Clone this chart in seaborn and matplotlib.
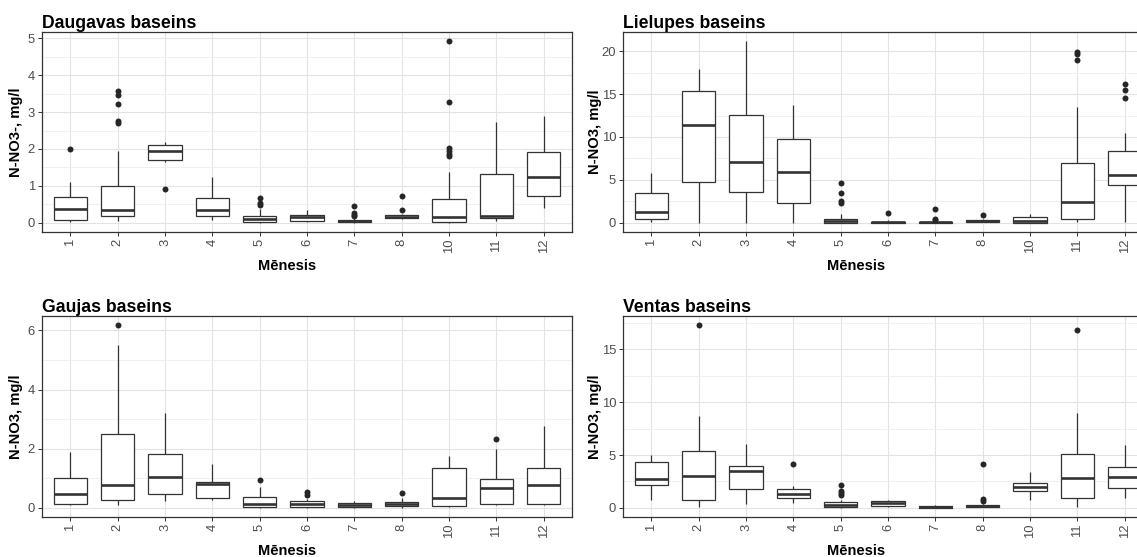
import numpy as np
import pandas as pd
import matplotlib
matplotlib.use("Agg")
import matplotlib.pyplot as plt
import seaborn as sns
from matplotlib.ticker import MultipleLocator

months = ["1", "2", "3", "4", "5", "6", "7", "8", "10", "11", "12"]

# ---- Daugavas baseins ----
daug_lo  = [0.03, 0.05, 1.65, 0.08, 0.00, 0.03, 0.00, 0.10, 0.00, 0.06, 0.41]
daug_q1  = [0.09, 0.20, 1.71, 0.20, 0.03, 0.06, 0.02, 0.13, 0.03, 0.12, 0.72]
daug_med = [0.385, 0.34, 1.95, 0.34, 0.10, 0.15, 0.045, 0.17, 0.17, 0.18, 1.25]
daug_q3  = [0.71, 0.99, 2.10, 0.67, 0.19, 0.22, 0.07, 0.21, 0.65, 1.32, 1.91]
daug_hi  = [1.12, 1.95, 2.19, 1.23, 0.37, 0.34, 0.12, 0.23, 1.38, 2.73, 2.88]
daug_out_m = ["1", "2", "2", "2", "2", "2", "3", "5", "5", "5", "7", "7", "7", "7",
              "8", "8", "10", "10", "10", "10", "10", "10"]
daug_out_v = [2.0, 3.58, 3.47, 3.22, 2.76, 2.70, 0.93, 0.68, 0.55, 0.48, 0.46, 0.28, 0.22, 0.18,
              0.73, 0.34, 4.92, 3.27, 2.02, 1.94, 1.86, 1.82]

# ---- Lielupes baseins ----
liel_lo  = [0.10, 0.0, 0.0, 0.0, 0.0, 0.0, 0.0, 0.05, 0.0, 0.10, 0.10]
liel_q1  = [0.46, 4.76, 3.56, 2.36, 0.0, 0.0, 0.0, 0.08, 0.0, 0.46, 4.45]
liel_med = [1.32, 11.37, 7.08, 5.96, 0.23, 0.08, 0.06, 0.20, 0.23, 2.40, 5.53]
liel_q3  = [3.44, 15.36, 12.53, 9.71, 0.50, 0.15, 0.12, 0.30, 0.70, 7.00, 8.35]
liel_hi  = [5.80, 17.95, 21.16, 13.77, 1.00, 0.30, 0.28, 0.50, 1.08, 13.54, 10.49]
liel_out_m = ["5", "5", "5", "5", "6", "7", "7", "7", "8", "11", "11", "11", "12", "12", "12"]
liel_out_v = [4.68, 3.44, 2.51, 2.32, 1.12, 1.59, 0.45, 0.35, 0.97, 19.92, 19.65, 19.0,
              16.17, 15.47, 14.58]

# ---- Gaujas baseins ----
gauj_lo  = [0.08, 0.09, 0.24, 0.28, 0.01, 0.01, 0.00, 0.01, 0.03, 0.08, 0.10]
gauj_q1  = [0.135, 0.28, 0.47, 0.32, 0.03, 0.03, 0.02, 0.06, 0.06, 0.135, 0.145]
gauj_med = [0.48, 0.78, 1.06, 0.82, 0.135, 0.135, 0.09, 0.12, 0.32, 0.66, 0.78]
gauj_q3  = [1.00, 2.51, 1.82, 0.88, 0.37, 0.23, 0.16, 0.19, 1.35, 0.98, 1.35]
gauj_hi  = [1.90, 5.52, 3.21, 1.50, 0.69, 0.30, 0.24, 0.34, 1.77, 2.00, 2.78]
gauj_out_m = ["2", "5", "6", "6", "8", "11"]
gauj_out_v = [6.18, 0.93, 0.54, 0.45, 0.51, 2.33]

# ---- Ventas baseins ----
vent_lo  = [0.73, 0.10, 0.41, 0.47, 0.00, 0.10, 0.00, 0.05, 0.73, 0.10, 0.89]
vent_q1  = [2.12, 0.73, 1.74, 0.95, 0.10, 0.22, 0.00, 0.10, 1.55, 0.95, 1.84]
vent_med = [2.72, 3.00, 3.51, 1.33, 0.28, 0.47, 0.06, 0.19, 1.93, 2.82, 2.92]
vent_q3  = [4.37, 5.35, 3.99, 1.74, 0.60, 0.66, 0.13, 0.25, 2.37, 5.10, 3.86]
vent_hi  = [5.03, 8.73, 6.04, 2.06, 0.79, 0.79, 0.25, 0.35, 3.39, 9.02, 5.95]
vent_out_m = ["2", "4", "5", "5", "5", "5", "8", "8", "8", "11"]
vent_out_v = [17.3, 4.15, 2.15, 1.58, 1.36, 1.20, 4.15, 0.82, 0.63, 16.8]

sns.set_theme(style="white")
plt.rcParams['font.family'] = ['Liberation Sans', 'DejaVu Sans']

W, H = 1137, 557
fig = plt.figure(figsize=(W / 100, H / 100), dpi=100)
fig.patch.set_facecolor("white")


def add_ax(l, t, r, b):
    return fig.add_axes([l / W, 1 - b / H, (r - l) / W, (b - t) / H])


panels = [
    dict(title="Daugavas baseins", ylabel="N-NO3-, mg/l", stats=(daug_lo, daug_q1, daug_med, daug_q3, daug_hi),
         om=daug_out_m, ov=daug_out_v, step=1, box=(42, 32, 572, 232), xlc=287, ylr=23),
    dict(title="Lielupes baseins", ylabel="N-NO3, mg/l", stats=(liel_lo, liel_q1, liel_med, liel_q3, liel_hi),
         om=liel_out_m, ov=liel_out_v, step=5, box=(623, 32, 1153, 232), xlc=856, ylr=602),
    dict(title="Gaujas baseins", ylabel="N-NO3, mg/l", stats=(gauj_lo, gauj_q1, gauj_med, gauj_q3, gauj_hi),
         om=gauj_out_m, ov=gauj_out_v, step=2, box=(42, 316, 572, 517), xlc=287, ylr=23),
    dict(title="Ventas baseins", ylabel="N-NO3, mg/l", stats=(vent_lo, vent_q1, vent_med, vent_q3, vent_hi),
         om=vent_out_m, ov=vent_out_v, step=5, box=(623, 316, 1153, 517), xlc=856, ylr=602),
]

dark = "#333333"
for p in panels:
    l, t, r, b = p["box"]
    ax = add_ax(l, t, r, b)
    rows = []
    for i, m in enumerate(months):
        for arr in p["stats"]:
            rows.append((m, arr[i]))
    df = pd.DataFrame(rows, columns=["month", "value"])
    sns.boxplot(data=df, x="month", y="value", order=months, whis=(0, 100), width=0.7,
                color="white", saturation=1, linecolor=dark, linewidth=0.9,
                showfliers=False, showcaps=False,
                medianprops=dict(linewidth=1.9, color=dark), ax=ax)
    odf = pd.DataFrame({"month": p["om"], "value": p["ov"]})
    sns.stripplot(data=odf, x="month", y="value", order=months, jitter=False,
                  color="#262626", size=4.3, linewidth=0, ax=ax)

    allv = np.concatenate([np.ravel(p["stats"]), p["ov"]])
    ymin, ymax = allv.min(), allv.max()
    pad = 0.05 * (ymax - ymin)
    ax.set_ylim(ymin - pad, ymax + pad)
    ax.set_xlim(-0.6, len(months) - 1 + 0.6)

    ax.yaxis.set_major_locator(MultipleLocator(p["step"]))
    ax.yaxis.set_minor_locator(MultipleLocator(p["step"] / 2))
    ax.set_axisbelow(True)
    ax.grid(True, which="major", axis="both", color="#E3E3E3", linewidth=0.8)
    ax.grid(True, which="minor", axis="y", color="#EEEEEE", linewidth=0.6)
    for s in ax.spines.values():
        s.set_color(dark)
        s.set_linewidth(0.9)
    ax.tick_params(axis="both", which="major", bottom=True, left=True, length=3, width=0.7,
                   color=dark, labelcolor="#4D4D4D", labelsize=9.4, pad=2)
    ax.tick_params(axis="both", which="minor", length=0)
    for lab in ax.get_xticklabels():
        lab.set_rotation(90)

    ax.set_title(p["title"], loc="left", fontsize=12.7, fontweight="bold", color="black", pad=3)
    ax.set_xlabel("Mēnesis", fontsize=10.5, fontweight="bold", color="black")
    ax.set_ylabel(p["ylabel"], fontsize=10.6, fontweight="bold", color="black")
    ax.xaxis.set_label_coords((p["xlc"] - l) / (r - l), -(259 - 232) / 200)
    ax.yaxis.set_label_coords((p["ylr"] - l) / (r - l), 0.5)

fig.savefig("out.png", dpi=100, facecolor="white")
